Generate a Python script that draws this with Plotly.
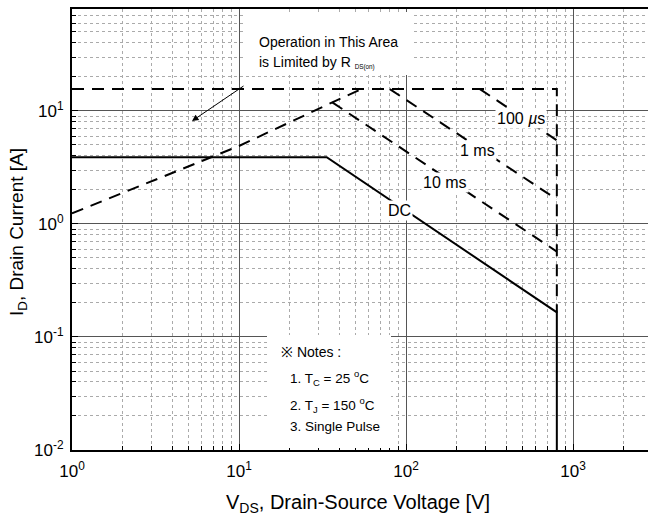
import numpy as np
import plotly.graph_objects as go

# ---- data ----
dc_v = [1, 33.5, 800, 800]
dc_i = [3.9, 3.9, 0.165, 0.01]
limit_v = [1, 800, 800]
limit_i = [15.6, 15.6, 0.165]
rds_v = [1, 10, 36.2, 54]
rds_i = [1.24, 4.9, 11.9, 15.6]
ms10_v = [36.2, 800]
ms10_i = [11.9, 0.57]
ms1_v = [80, 800]
ms1_i = [15.6, 1.65]
us100_v = [277, 800]
us100_i = [15.6, 5.5]

x_tickvals = [1, 10, 100, 1000]
x_ticktext = ["10<sup>0</sup>", "10<sup>1</sup>", "10<sup>2</sup>", "10<sup>3</sup>"]
y_tickvals = [0.01, 0.1, 1, 10]
y_ticktext = ["10<sup>-2</sup>", "10<sup>-1</sup>", "10<sup>0</sup>", "10<sup>1</sup>"]

FONT = "Liberation Sans, Arial, sans-serif"

# layout geometry helpers (pixel -> axis log coordinate)
L, T, R, B = 72, 9, 0, 76
W, H = 648, 526
XR = [0, 3.449]
YR = [-2, 1.902]
def px2x(px):
    return XR[0] + (px - L) / (W - L - R) * (XR[1] - XR[0])
def py2y(py):
    return YR[1] - (py - T) / (H - T - B) * (YR[1] - YR[0])

minor_x = [m * 10 ** d for d in range(0, 4) for m in range(2, 10)]
minor_y = [m * 10 ** d for d in range(-2, 2) for m in range(2, 10)]

fig = go.Figure()
dash = "12px,8px"
for vx, iy in [(limit_v, limit_i), (rds_v, rds_i), (ms10_v, ms10_i), (ms1_v, ms1_i), (us100_v, us100_i)]:
    fig.add_trace(go.Scatter(x=vx, y=iy, mode="lines",
                             line=dict(color="black", width=2, dash=dash),
                             showlegend=False, hoverinfo="skip"))
fig.add_trace(go.Scatter(x=dc_v, y=dc_i, mode="lines",
                         line=dict(color="black", width=2),
                         showlegend=False, hoverinfo="skip"))

fig.update_xaxes(type="log", range=XR, tickvals=x_tickvals, ticktext=x_ticktext,
                 showgrid=True, gridcolor="#555555", gridwidth=1,
                 showline=True, linecolor="black", linewidth=2, mirror=True,
                 ticks="inside", ticklen=6, tickcolor="black",
                 tickfont=dict(family=FONT, size=17, color="black"),
                 ticklabelstandoff=5,
                 minor=dict(tickvals=minor_x, ticks="inside", ticklen=4, tickcolor="black",
                            showgrid=True, gridcolor="#aaaaaa", griddash="dot", gridwidth=1),
                 zeroline=False)
fig.update_yaxes(type="log", range=YR, tickvals=y_tickvals, ticktext=y_ticktext,
                 showgrid=True, gridcolor="#555555", gridwidth=1,
                 showline=True, linecolor="black", linewidth=2, mirror=False,
                 ticks="inside", ticklen=6, tickcolor="black",
                 tickfont=dict(family=FONT, size=17, color="black"),
                 ticklabelstandoff=3,
                 minor=dict(tickvals=minor_y, ticks="inside", ticklen=4, tickcolor="black",
                            showgrid=True, gridcolor="#aaaaaa", griddash="dot", gridwidth=1),
                 zeroline=False)

# white boxes (shape coords on log axes are data values)
fig.add_shape(type="rect", xref="x", yref="y", layer="above",
              x0=10 ** px2x(245), x1=10 ** px2x(411), y0=10 ** py2y(75), y1=10 ** py2y(12),
              fillcolor="white", line=dict(width=0))
fig.add_shape(type="rect", xref="x", yref="y", layer="above",
              x0=10 ** px2x(267), x1=10 ** px2x(391), y0=10 ** py2y(448), y1=10 ** py2y(335),
              fillcolor="white", line=dict(width=0))

ann = []
def txt(text, px, py, size, xanchor="center", bg=None):
    d = dict(text=text, x=px2x(px), y=py2y(py), xref="x", yref="y",
             showarrow=False, xanchor=xanchor, yanchor="middle",
             font=dict(family=FONT, size=size, color="black"))
    if bg:
        d.update(bgcolor=bg, borderpad=1)
    ann.append(d)

txt("Operation in This Area", 257, 42, 14, "left")
txt("is Limited by R <span style='font-size:9px'><sub>DS(on)</sub></span>", 257, 62, 14, "left")
txt("※ Notes :", 279, 352, 14, "left")
txt("1. T<sub>C</sub> = 25 <sup>o</sup>C", 288, 378, 13.5, "left")
txt("2. T<sub>J</sub> = 150 <sup>o</sup>C", 288, 405, 13.5, "left")
txt("3. Single Pulse", 288, 426, 13.5, "left")
txt("100 <i>µ</i>s", 521, 118, 16, "center", "white")
txt("1 ms", 477, 150, 16, "center", "white")
txt("10 ms", 445, 182, 16, "center", "white")
txt("DC", 399, 210, 16, "center", "white")

# arrow
ann.append(dict(text="", x=px2x(192), y=py2y(121), xref="x", yref="y",
                showarrow=True, ax=53, ay=-36, arrowhead=2, arrowsize=1.3,
                arrowwidth=1, arrowcolor="black"))

# axis titles (positions given in page pixels, converted to paper coords)
ann.append(dict(text="V<sub>DS</sub>, Drain-Source Voltage [V]", x=358 / W, y=1 - 503 / H,
                xref="paper", yref="paper", showarrow=False, xanchor="center", yanchor="middle",
                font=dict(family=FONT, size=20, color="black")))
ann.append(dict(text="I<sub>D</sub>, Drain Current [A]", x=18 / W, y=1 - 232 / H,
                xref="paper", yref="paper", showarrow=False, xanchor="center", yanchor="middle",
                textangle=-90, font=dict(family=FONT, size=19, color="black")))

for a in ann:
    if a.get("xref") == "paper":
        a["x"] = (a["x"] * W - L) / (W - L - R)
        a["y"] = ((a["y"]) * H - B) / (H - T - B)

fig.update_layout(width=W, height=H, margin=dict(l=L, r=R, t=T, b=B),
                  paper_bgcolor="white", plot_bgcolor="white",
                  annotations=ann, showlegend=False)

fig.write_html("out.html")
